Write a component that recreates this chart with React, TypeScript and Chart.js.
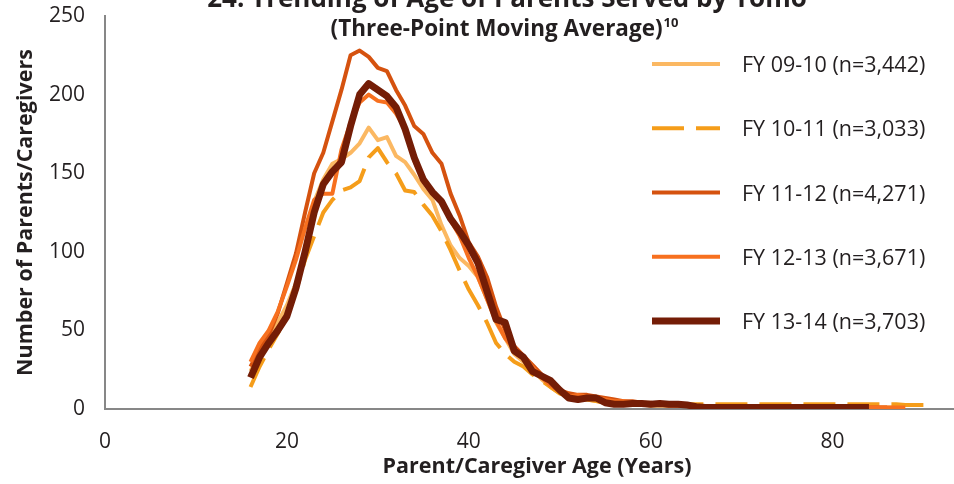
import React, { useEffect, useRef } from 'react';
import { Chart, registerables } from 'chart.js';

Chart.register(...registerables);

const ages = [
  16, 17, 18, 19, 20, 21, 22, 23, 24, 25, 26, 27, 28, 29, 30, 31, 32, 33, 34, 35,
  36, 37, 38, 39, 40, 41, 42, 43, 44, 45, 46, 47, 48, 49, 50, 51, 52, 53, 54, 55,
  56, 57, 58, 59, 60, 61, 62, 63, 64, 65, 66, 67, 68, 69, 70, 71, 72, 73, 74, 75,
  76, 77, 78, 79, 80, 81, 82, 83, 84, 85, 86, 87, 88, 89, 90,
];

const fy0910 = [
  24, 35, 44, 55, 66, 80, 98, 132, 146, 156, 159, 163, 169, 179, 171, 173, 161, 157, 149, 140,
  133, 117, 104, 96, 91, 84, 70, 55, 45, 35, 30, 25, 19, 14, 10, 8, 7, 6, 5, 4,
  4, 3, 3, 3, 2, 2, 2, 2, 2, 1, 1, 1, 1, 1, 1, 1, 1, 1, 1, 1,
  1, 1, 1, 1, 1, 1, 1, 1, 1, 1, 1, 1, null, null, null,
];

const fy1011 = [
  14, 27, 38, 48, 60, 75, 95, 110, 125, 133, 139, 141, 145, 160, 166, 157, 150, 139, 138, 130,
  123, 113, 101, 88, 76, 66, 55, 42, 35, 30, 27, 22, 18, 14, 10, 8, 7, 6, 5, 4,
  4, 3, 3, 3, 3, 3, 3, 3, 3, 3, 3, 3, 3, 3, 3, 3, 3, 3, 3, 3,
  3, 3, 3, 3, 3, 3, 3, 3, 3, 3, 3, 3, 2.5, 2.5, 2.5,
];

const fy1112 = [
  27, 38, 47, 61, 80, 99, 125, 150, 163, 183, 203, 225, 228, 224, 217, 215, 203, 193, 180, 175,
  163, 156, 137, 123, 106, 97, 84, 65, 50, 40, 34, 28, 22, 16, 12, 10, 9, 9, 8, 7,
  6, 5, 5, 4, 4, 3, 3, 2, 2, 2, 1, 1, 1, 1, 1, 1, 1, 1, 1, 1,
  1, 1, 1, 1, 1, 1, 1, 1, 1, 1, 1, null, null, null, null,
];

const fy1213 = [
  30, 42, 50, 62, 78, 95, 115, 133, 137, 137, 165, 182, 195, 200, 196, 195, 188, 178, 158, 145,
  137, 131, 120, 110, 96, 84, 70, 56, 45, 38, 33, 27, 20, 15, 11, 8, 9, 8, 7, 6,
  5, 5, 4, 4, 3, 3, 2, 2, 2, 2, 1, 1, 1, 1, 1, 1, 1, 1, 1, 1,
  1, 1, 1, 1, 1, 1, 1, 1, 1, 1, 1, 1, 1, null, null,
];

const fy1314 = [
  20, 33, 42, 50, 59, 77, 100, 125, 143, 151, 157, 180, 200, 207, 203, 199, 192, 178, 160, 146,
  138, 132, 121, 113, 104, 93, 75, 57, 55, 37, 33, 24, 21, 18, 12, 7, 6, 7, 7, 4,
  3, 3, 3.5, 3.5, 3, 3.5, 3, 3, 2.5, 1.5, 1, 1, 1, 1, 1, 1, 1, 1, 1, 1,
  1, 1, 1, 1, 1, 1, 1, 1, 1, null, null, null, null, null, null,
];

const seriesLabels = [
  'FY 09-10 (n=3,442)',
  'FY 10-11 (n=3,033)',
  'FY 11-12 (n=4,271)',
  'FY 12-13 (n=3,671)',
  'FY 13-14 (n=3,703)',
];

const seriesColors = ['#FBB862', '#F59D1A', '#D5520F', '#F7701F', '#741D06'];

const yTicks = [0, 50, 100, 150, 200, 250];
const xTicks = [0, 20, 40, 60, 80];

const titleLine1 = '24. Trending of Age of Parents Served by Tomo';
const titleLine2 = '(Three-Point Moving Average)';
const titleSup = '10';
const xTitle = 'Parent/Caregiver Age (Years)';
const yTitle = 'Number of Parents/Caregivers';

const FONT = '"Open Sans", "DejaVu Sans", sans-serif';
const TEXT = '#231F20';

const toPoints = (vals: (number | null)[]) =>
  ages.map((a, i) => ({ x: a, y: vals[i] }));

const titlePlugin = {
  id: 'overlayTitle',
  afterDraw(chart: any) {
    const ctx = chart.ctx as CanvasRenderingContext2D;
    ctx.save();
    ctx.fillStyle = TEXT;
    ctx.textBaseline = 'alphabetic';
    ctx.textAlign = 'center';
    ctx.font = `bold 26px ${FONT}`;
    ctx.fillText(titleLine1, 507, 7);
    ctx.font = `bold 22.5px ${FONT}`;
    const w2 = ctx.measureText(titleLine2).width;
    ctx.font = `bold 13px ${FONT}`;
    const ws = ctx.measureText(titleSup).width;
    const start = 504 - (w2 + ws) / 2;
    ctx.textAlign = 'left';
    ctx.font = `bold 22.5px ${FONT}`;
    ctx.fillText(titleLine2, start, 36);
    ctx.font = `bold 13px ${FONT}`;
    ctx.fillText(titleSup, start + w2 + 1, 27);
    ctx.restore();
  },
};

const legendPlugin = {
  id: 'sideLegend',
  afterDraw(chart: any) {
    const ctx = chart.ctx as CanvasRenderingContext2D;
    chart.data.datasets.forEach((ds: any, i: number) => {
      const y = 64 + i * 64.25;
      ctx.save();
      ctx.strokeStyle = ds.borderColor;
      ctx.lineWidth = ds.borderWidth;
      ctx.setLineDash(ds.borderDash || []);
      ctx.lineCap = 'butt';
      ctx.beginPath();
      ctx.moveTo(652, y);
      ctx.lineTo(720, y);
      ctx.stroke();
      ctx.setLineDash([]);
      ctx.fillStyle = TEXT;
      ctx.font = `21.5px ${FONT}`;
      ctx.textBaseline = 'middle';
      ctx.textAlign = 'left';
      ctx.fillText(ds.label, 742, y + 2);
      ctx.restore();
    });
  },
};

export default function App() {
  const ref = useRef<HTMLCanvasElement | null>(null);

  useEffect(() => {
    if (!ref.current) return;
    const allSeries = [fy0910, fy1011, fy1112, fy1213, fy1314];
    const widths = [4, 4, 4, 4, 7];
    const orders = [4, 3, 2, 1, 0];
    const chart = new Chart(ref.current, {
      type: 'line',
      data: {
        datasets: allSeries.map((s, i) => ({
          label: seriesLabels[i],
          data: toPoints(s),
          borderColor: seriesColors[i],
          backgroundColor: seriesColors[i],
          borderWidth: widths[i],
          borderDash: i === 1 ? [32, 12] : [],
          pointRadius: 0,
          pointHoverRadius: 0,
          tension: 0,
          fill: false,
          spanGaps: false,
          borderJoinStyle: 'round',
          order: orders[i],
        })),
      },
      options: {
        animation: false,
        responsive: false,
        devicePixelRatio: 1,
        layout: { padding: { left: 0, top: 16, right: 31, bottom: 0 } },
        plugins: {
          legend: { display: false },
          title: { display: false },
          tooltip: { enabled: false },
        },
        scales: {
          x: {
            type: 'linear',
            min: 0,
            max: 95,
            afterBuildTicks: (axis: any) => {
              axis.ticks = xTicks.map((v) => ({ value: v }));
            },
            ticks: {
              padding: 20,
              autoSkip: false,
              maxRotation: 0,
              color: TEXT,
              font: { family: FONT, size: 21 },
            },
            grid: { display: false, drawTicks: false },
            border: { display: true, color: '#878787', width: 2 },
            title: {
              display: true,
              text: xTitle,
              color: TEXT,
              font: { family: FONT, size: 21.5, weight: 'bold' },
              padding: { top: 0, bottom: 4 },
            },
            afterFit: (axis: any) => {
              axis.height = 75;
              axis.paddingLeft = 0;
              axis.paddingRight = 0;
            },
          },
          y: {
            type: 'linear',
            min: 0,
            max: 250,
            afterBuildTicks: (axis: any) => {
              axis.ticks = yTicks.map((v) => ({ value: v }));
            },
            ticks: {
              padding: 20,
              color: TEXT,
              font: { family: FONT, size: 21 },
            },
            grid: { display: false, drawTicks: false },
            border: { display: true, color: '#878787', width: 2 },
            title: {
              display: true,
              text: yTitle,
              color: TEXT,
              font: { family: FONT, size: 21.5, weight: 'bold' },
              padding: { top: 13, bottom: 0 },
            },
            afterFit: (axis: any) => {
              axis.width = 105;
              axis.paddingTop = 0;
              axis.paddingBottom = 0;
            },
          },
        },
      },
      plugins: [titlePlugin, legendPlugin],
    });
    return () => chart.destroy();
  }, []);

  return (
    <div
      style={{
        position: 'fixed',
        left: 0,
        top: 0,
        width: 954,
        height: 484,
        overflow: 'hidden',
        background: '#fff',
      }}
    >
      <canvas ref={ref} width={1000} height={484} style={{ width: 1000, height: 484, display: 'block' }} />
    </div>
  );
}
